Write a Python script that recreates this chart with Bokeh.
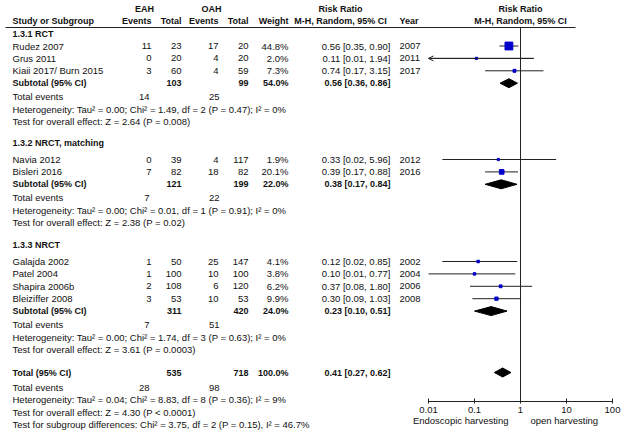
from bokeh.plotting import figure
from bokeh.models import Range1d, LogScale, ColumnDataSource, Arrow, OpenHead
from bokeh.core.properties import value
from bokeh.embed import file_html
from bokeh.resources import INLINE

# ---------------- data ----------------
studies = ["Rudez 2007", "Grus 2011", "Kiaii 2017/ Burn 2015", "Navia 2012", "Bisleri 2016",
           "Galajda 2002", "Patel 2004", "Shapira 2006b", "Bleiziffer 2008"]
study_group = [0, 0, 0, 1, 1, 2, 2, 2, 2]
eah_events = [11, 0, 3, 0, 7, 1, 1, 2, 3]
eah_total = [23, 20, 60, 39, 82, 50, 100, 108, 53]
oah_events = [17, 4, 4, 4, 18, 25, 10, 6, 10]
oah_total = [20, 20, 59, 117, 82, 147, 100, 120, 53]
weight = [44.8, 2.0, 7.3, 1.9, 20.1, 4.1, 3.8, 6.2, 9.9]
rr = [0.56, 0.11, 0.74, 0.33, 0.39, 0.12, 0.10, 0.37, 0.30]
rr_lo = [0.35, 0.01, 0.17, 0.02, 0.17, 0.02, 0.01, 0.08, 0.09]
rr_hi = [0.90, 1.94, 3.15, 5.96, 0.88, 0.85, 0.77, 1.80, 1.03]
year = [2007, 2011, 2017, 2012, 2016, 2002, 2004, 2006, 2008]
left_arrow = [False, True, False, False, False, False, False, False, False]

group_names = ["1.3.1 RCT", "1.3.2 NRCT, matching", "1.3.3 NRCT"]
sub_eah_total = [103, 121, 311]
sub_oah_total = [99, 199, 420]
sub_weight = [54.0, 22.0, 24.0]
sub_rr = [0.56, 0.38, 0.23]
sub_lo = [0.36, 0.17, 0.10]
sub_hi = [0.86, 0.84, 0.51]
sub_eah_events = [14, 7, 7]
sub_oah_events = [25, 22, 51]
sub_het = ["Heterogeneity: Tau\u00b2 = 0.00; Chi\u00b2 = 1.49, df = 2 (P = 0.47); I\u00b2 = 0%",
           "Heterogeneity: Tau\u00b2 = 0.00; Chi\u00b2 = 0.01, df = 1 (P = 0.91); I\u00b2 = 0%",
           "Heterogeneity: Tau\u00b2 = 0.00; Chi\u00b2 = 1.74, df = 3 (P = 0.63); I\u00b2 = 0%"]
sub_test = ["Test for overall effect: Z = 2.64 (P = 0.008)",
            "Test for overall effect: Z = 2.38 (P = 0.02)",
            "Test for overall effect: Z = 3.61 (P = 0.0003)"]

tot_eah_total, tot_oah_total, tot_weight = 535, 718, 100.0
tot_rr, tot_lo, tot_hi = 0.41, 0.27, 0.62
tot_eah_events, tot_oah_events = 28, 98
tot_het = "Heterogeneity: Tau\u00b2 = 0.04; Chi\u00b2 = 8.83, df = 8 (P = 0.36); I\u00b2 = 9%"
tot_test = "Test for overall effect: Z = 4.30 (P < 0.0001)"
subgroup_test = "Test for subgroup differences: Chi\u00b2 = 3.75, df = 2 (P = 0.15), I\u00b2 = 46.7%"

axis_ticks = [0.01, 0.1, 1, 10, 100]
axis_tick_labels = ["0.01", "0.1", "1", "10", "100"]
favours_left = "Endoscopic harvesting"
favours_right = "open harvesting"

# ---------------- layout (pixel positions) ----------------
FONT = "Liberation Sans"
FS = "9.5px"
FSB = "9px"
TXT = "#111111"
X_LEFT, X_EV1, X_TOT1, X_EV2, X_TOT2, X_W, X_RR, X_YEAR = 12, 151, 181, 218, 248, 288, 390, 399
PITCH = 12.4
W, Hh = 625, 437

p = figure(width=W, height=Hh, x_range=Range1d(0, W), y_range=Range1d(Hh, 0),
           output_backend="svg", toolbar_location=None, min_border=0)
p.axis.visible = False
p.grid.visible = False
p.outline_line_color = None
p.background_fill_color = "white"
p.border_fill_color = "white"
p.extra_x_scales = {"rr": LogScale()}
p.extra_x_ranges = {"rr": Range1d(start=10 ** ((0 - 520) / 46.0), end=10 ** ((W - 520) / 46.0))}

items = []  # (x, y, text, align, bold)


def add(x, y, t, align="left", bold=False):
    items.append((x, y, str(t), align, bold))


# headers
add(144, 8, "EAH", "center", True)
add(211, 8, "OAH", "center", True)
add(340, 8, "Risk Ratio", "center", True)
add(520, 8, "Risk Ratio", "center", True)
y_h2 = 20
add(X_LEFT, y_h2, "Study or Subgroup", "left", True)
add(X_EV1, y_h2, "Events", "right", True)
add(X_TOT1, y_h2, "Total", "right", True)
add(X_EV2, y_h2, "Events", "right", True)
add(X_TOT2, y_h2, "Total", "right", True)
add(X_W, y_h2, "Weight", "right", True)
add(340, y_h2, "M-H, Random, 95% CI", "center", True)
add(X_YEAR, y_h2, "Year", "left", True)
add(520, y_h2, "M-H, Random, 95% CI", "center", True)

study_y = [0.0] * len(studies)
sub_y = []
group_header_y = [33, 142, 244]
first_gap = [12.5, 17, 17]
for g, gname in enumerate(group_names):
    y = group_header_y[g]
    add(X_LEFT, y, gname, "left", True)
    y += first_gap[g]
    for i, s in enumerate(studies):
        if study_group[i] != g:
            continue
        study_y[i] = y
        add(X_LEFT, y, s)
        add(X_EV1, y, eah_events[i], "right")
        add(X_TOT1, y, eah_total[i], "right")
        add(X_EV2, y, oah_events[i], "right")
        add(X_TOT2, y, oah_total[i], "right")
        add(X_W, y, f"{weight[i]:.1f}%", "right")
        add(X_RR, y, f"{rr[i]:.2f} [{rr_lo[i]:.2f}, {rr_hi[i]:.2f}]", "right")
        add(X_YEAR, y, year[i], "left")
        y += PITCH
    sub_y.append(y)
    add(X_LEFT, y, "Subtotal (95% CI)", "left", True)
    add(X_TOT1, y, sub_eah_total[g], "right", True)
    add(X_TOT2, y, sub_oah_total[g], "right", True)
    add(X_W, y, f"{sub_weight[g]:.1f}%", "right", True)
    add(X_RR, y, f"{sub_rr[g]:.2f} [{sub_lo[g]:.2f}, {sub_hi[g]:.2f}]", "right", True)
    y += 13.5
    add(X_LEFT, y, "Total events")
    add(X_EV1 - 2, y, sub_eah_events[g], "right")
    add(X_EV2 + 1, y, sub_oah_events[g], "right")
    y += PITCH
    add(X_LEFT, y, sub_het[g])
    y += PITCH
    add(X_LEFT, y, sub_test[g])

y_tot = 372
add(X_LEFT, y_tot, "Total (95% CI)", "left", True)
add(X_TOT1, y_tot, tot_eah_total, "right", True)
add(X_TOT2, y_tot, tot_oah_total, "right", True)
add(X_W, y_tot, f"{tot_weight:.1f}%", "right", True)
add(X_RR, y_tot, f"{tot_rr:.2f} [{tot_lo:.2f}, {tot_hi:.2f}]", "right", True)
y = y_tot + 15
add(X_LEFT, y, "Total events")
add(X_EV1 - 2, y, tot_eah_events, "right")
add(X_EV2 + 1, y, tot_oah_events, "right")
y += PITCH
add(X_LEFT, y, tot_het)
y += PITCH
add(X_LEFT, y, tot_test)
y += PITCH
add(X_LEFT, y, subgroup_test)

for align in ("left", "right", "center"):
    for bold in (False, True):
        sel = [it for it in items if it[3] == align and it[4] == bold]
        if not sel:
            continue
        src = ColumnDataSource(dict(x=[s[0] for s in sel], y=[s[1] for s in sel], t=[s[2] for s in sel]))
        p.text(x="x", y="y", text="t", source=src, text_align=align, text_baseline="middle",
               text_font=value(FONT), text_font_size=FSB if bold else FS, text_color=TXT,
               text_font_style="bold" if bold else "normal")

# header rule
p.segment(x0=[5], x1=[575], y0=[27], y1=[27], line_color="#222222", line_width=1)

# ---------------- forest part ----------------
Y_AX = 401
p.segment(x0=[1], x1=[1], y0=[27], y1=[Y_AX], x_range_name="rr", line_color="#222222", line_width=1)

p.segment(x0=rr_lo, x1=rr_hi, y0=study_y, y1=study_y, x_range_name="rr",
          line_color="#222222", line_width=1)
for i, a in enumerate(left_arrow):
    if a:
        p.add_layout(Arrow(end=OpenHead(size=5, line_width=1, line_color="#222222"),
                           x_start=rr_hi[i], x_end=rr_lo[i], y_start=study_y[i], y_end=study_y[i],
                           x_range_name="rr", line_color="#222222", line_width=1))
sizes = [2 + w * 0.13 for w in weight]
p.scatter(x=rr, y=study_y, size=sizes, marker="square", fill_color="#0000CC",
          line_color="#0000CC", x_range_name="rr")

H = 4.5
d_xs, d_ys = [], []
for g in range(len(group_names)):
    d_xs.append([sub_lo[g], sub_rr[g], sub_hi[g], sub_rr[g]])
    d_ys.append([sub_y[g], sub_y[g] - H, sub_y[g], sub_y[g] + H])
d_xs.append([tot_lo, tot_rr, tot_hi, tot_rr])
d_ys.append([y_tot, y_tot - H, y_tot, y_tot + H])
p.patches(xs=d_xs, ys=d_ys, x_range_name="rr", fill_color="black", line_color="black")

# axis
p.segment(x0=[axis_ticks[0]], x1=[axis_ticks[-1]], y0=[Y_AX], y1=[Y_AX], x_range_name="rr",
          line_color="#222222", line_width=1)
p.segment(x0=axis_ticks, x1=axis_ticks, y0=[Y_AX - 3] * 5, y1=[Y_AX + 2] * 5, x_range_name="rr",
          line_color="#222222", line_width=1)
p.text(x=axis_ticks, y=[Y_AX + 8.5] * 5, text=axis_tick_labels, x_range_name="rr",
       text_align="center", text_baseline="middle", text_font=value(FONT), text_font_size=FS,
       text_color=TXT)
p.text(x=[1], y=[Y_AX + 18.5], text=[favours_left], x_range_name="rr", x_offset=-12,
       text_align="right", text_baseline="middle", text_font=value(FONT), text_font_size=FS,
       text_color=TXT)
p.text(x=[1], y=[Y_AX + 18.5], text=[favours_right], x_range_name="rr", x_offset=10,
       text_align="left", text_baseline="middle", text_font=value(FONT), text_font_size=FS,
       text_color=TXT)

open("out.html", "w").write(file_html(p, INLINE))
